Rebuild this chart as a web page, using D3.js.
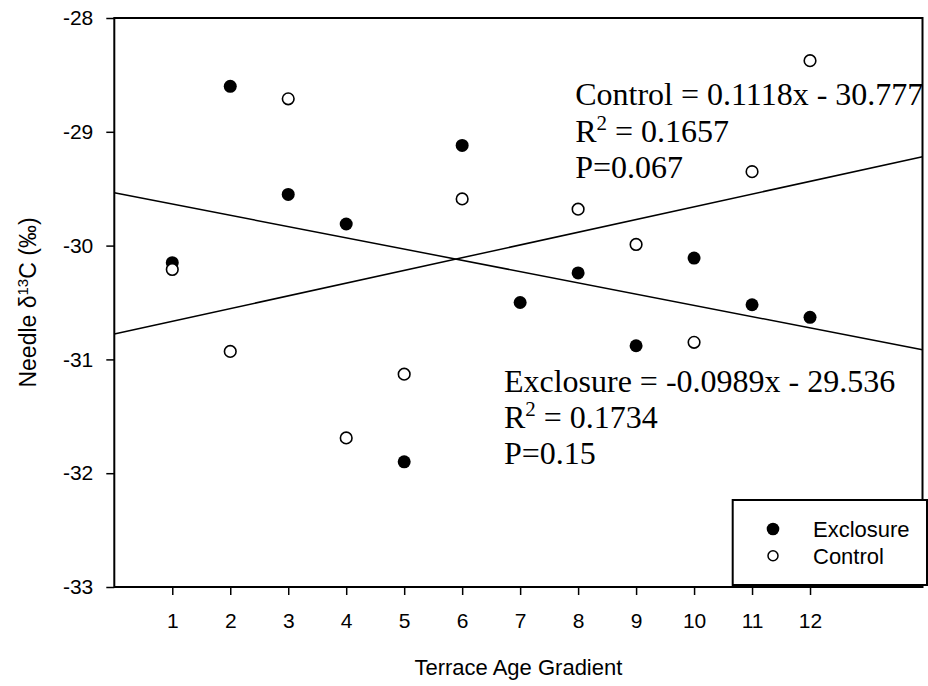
<!DOCTYPE html>
<html><head><meta charset="utf-8">
<script src="https://cdn.jsdelivr.net/npm/d3@7"></script>
<style>body{margin:0;background:#fff}svg{display:block}</style>
</head><body>
<script>
const terraceX = [1,2,3,4,5,6,7,8,9,10,11,12];
const exclosureVals = [-30.15,-28.60,-29.55,-29.81,-31.90,-29.12,-30.50,-30.24,-30.88,-30.11,-30.52,-30.63];
const controlX = [1,2,3,4,5,6,8,9,10,11,12];
const controlVals = [-30.21,-30.93,-28.71,-31.69,-31.13,-29.59,-29.68,-29.99,-30.85,-29.35,-28.375];
const xTicks = [1,2,3,4,5,6,7,8,9,10,11,12];
const yTicks = [-28,-29,-30,-31,-32,-33];
const controlFit = {slope:0.1118, intercept:-30.777};
const exclosureFit = {slope:-0.0989, intercept:-29.536};
const controlNote = ["Control = 0.1118x - 30.777","0.1657","P=0.067"];
const exclosureNote = ["Exclosure = -0.0989x - 29.536","0.1734","P=0.15"];

const W=928,H=686;
const m={l:114.3,r:5.5,t:18,b:99};
const svg=d3.select("body").append("svg").attr("width",W).attr("height",H);
const x=d3.scaleLinear().domain([0,13.94]).range([m.l,W-m.r]);
const y=d3.scaleLinear().domain([-33,-28]).range([H-m.b,m.t]);

// regression lines
const lineGen=d3.line().x(d=>x(d[0])).y(d=>y(d[1]));
[controlFit,exclosureFit].forEach(f=>{
  const xs=x.domain();
  svg.append("path").attr("d",lineGen(xs.map(v=>[v,f.slope*v+f.intercept])))
    .attr("fill","none").attr("stroke","#000").attr("stroke-width",1.5);
});

// points
svg.append("g").selectAll("circle").data(terraceX.map((v,i)=>[v,exclosureVals[i]])).join("circle")
  .attr("cx",d=>x(d[0])).attr("cy",d=>y(d[1])).attr("r",6.5).attr("fill","#000");
svg.append("g").selectAll("circle").data(controlX.map((v,i)=>[v,controlVals[i]])).join("circle")
  .attr("cx",d=>x(d[0])).attr("cy",d=>y(d[1])).attr("r",5.8).attr("fill","#fff").attr("stroke","#000").attr("stroke-width",1.6);

// frame
svg.append("rect").attr("x",x.range()[0]).attr("y",y.range()[1])
  .attr("width",x.range()[1]-x.range()[0]).attr("height",y.range()[0]-y.range()[1])
  .attr("fill","none").attr("stroke","#000").attr("stroke-width",2);

// axes
const xAxis=svg.append("g").attr("transform",`translate(0,${y.range()[0]})`)
  .call(d3.axisBottom(x).tickValues(xTicks).tickSize(8).tickPadding(18).tickFormat(d3.format("d")));
const yAxis=svg.append("g").attr("transform",`translate(${x.range()[0]},0)`)
  .call(d3.axisLeft(y).tickValues(yTicks).tickSize(8).tickPadding(13).tickFormat(d=>d3.format("d")(d).replace("−","-")));
[xAxis,yAxis].forEach(a=>{
  a.select(".domain").remove();
  a.selectAll(".tick line").attr("stroke","#000").attr("stroke-width",1.5);
  a.selectAll("text").attr("font-family","Liberation Sans, Arial, sans-serif").attr("font-size",21).attr("fill","#000");
});

// axis titles
svg.append("text").attr("x",(x.range()[0]+x.range()[1])/2).attr("y",675)
  .attr("text-anchor","middle").attr("font-family","Liberation Sans, Arial, sans-serif").attr("font-size",22)
  .text("Terrace Age Gradient");
const yt=svg.append("text").attr("transform",`translate(36,${(y.range()[0]+y.range()[1])/2}) rotate(-90)`)
  .attr("text-anchor","middle").attr("font-family","Liberation Sans, Arial, sans-serif").attr("font-size",23);
yt.append("tspan").text("Needle δ");
yt.append("tspan").attr("baseline-shift","super").attr("font-size",15).text("13");
yt.append("tspan").text("C (‰)");

// annotations
function note(lines,dx,dy){
  const g=svg.append("g").attr("font-family","Liberation Serif, Times New Roman, serif").attr("font-size",32).attr("fill","#000");
  const bx=x(dx), by=y(dy);
  g.append("text").attr("x",bx).attr("y",by).text(lines[0]);
  const t=g.append("text").attr("x",bx).attr("y",by+36.5);
  t.append("tspan").text("R");
  t.append("tspan").attr("baseline-shift","super").attr("font-size",21).text("2");
  t.append("tspan").text(" = "+lines[1]);
  g.append("text").attr("x",bx).attr("y",by+72.5).text(lines[2]);
}
note(controlNote,7.95,-28.765);
note(exclosureNote,6.72,-31.284);

// legend
const lg=svg.append("g");
lg.append("rect").attr("x",732.7).attr("y",500).attr("width",194.3).attr("height",85)
  .attr("fill","#fff").attr("stroke","#000").attr("stroke-width",2);
const legItems=[{name:"Exclosure",filled:true},{name:"Control",filled:false}];
legItems.forEach((it,i)=>{
  const cy=529+i*26.7;
  lg.append("circle").attr("cx",773).attr("cy",cy).attr("r",it.filled?6.3:5)
    .attr("fill",it.filled?"#000":"#fff").attr("stroke","#000").attr("stroke-width",it.filled?0:1.5);
  lg.append("text").attr("x",813).attr("y",cy+7.8).attr("font-family","Liberation Sans, Arial, sans-serif")
    .attr("font-size",22).text(it.name);
});
</script>
</body></html>
